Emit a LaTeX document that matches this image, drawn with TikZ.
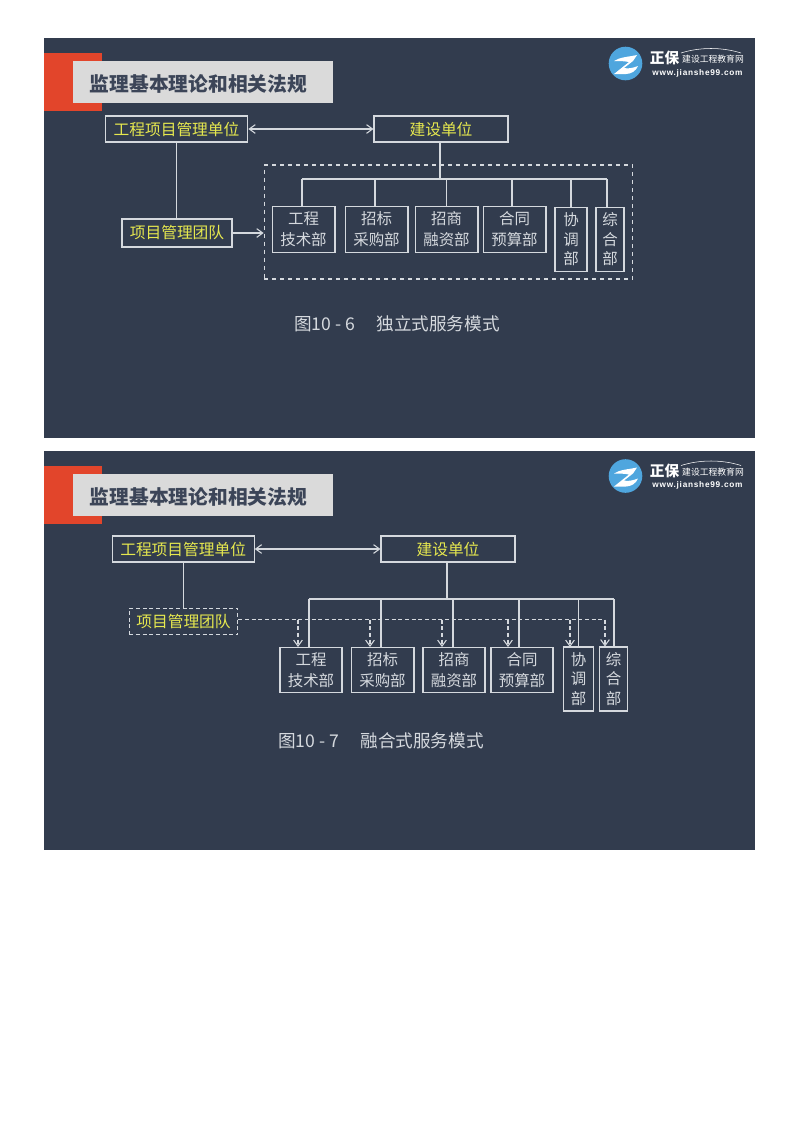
\documentclass[tikz,border=0pt]{standalone}
\usepackage{fontspec}
\usepackage{tikz}
\usetikzlibrary{arrows.meta}
\setmainfont{Noto Sans CJK SC}
\newfontfamily\sitefont[LetterSpace=9]{Liberation Sans}
\newfontfamily\brandfont{Noto Sans CJK SC}
\definecolor{slate}{HTML}{323C4E}
\definecolor{linegray}{HTML}{D5D9DE}
\definecolor{labelyellow}{HTML}{E6E84E}
\definecolor{titlegray}{HTML}{DADADA}
\definecolor{titleink}{HTML}{3C4558}
\definecolor{tabred}{HTML}{E2452B}
\definecolor{logoblue}{HTML}{4FA6DE}
\tikzset{
  x=0.75pt,y=-0.75pt,>={Straight Barb[length=4.5pt,width=6.5pt]},
  wire/.style={draw=linegray,line width=0.8pt},
  dashwire/.style={draw=linegray,line width=0.8pt,dash pattern=on 3pt off 2pt},
  unitbox/.style={draw=linegray,line width=0.8pt,text=labelyellow,font=\fontsize{11.8}{14}\selectfont,inner sep=0pt,minimum height=19.5pt},
  deptbox/.style={draw=linegray,line width=0.8pt,text=linegray,font=\fontsize{11.6}{14.6}\selectfont,inner sep=0pt,align=center,minimum height=34pt},
  tallbox/.style={deptbox,minimum height=48pt},
  captionlabel/.style={text=linegray,font=\fontsize{13.2}{16}\selectfont,inner sep=0pt},
}
\newcommand{\panel}[2]{%
  \fill [slate] (44,#1) rectangle (755,#1+399.5);
  \fill [tabred] (44,#1+15) rectangle (102,#1+73);
  \fill [titlegray] (73,#1+23) rectangle (333,#1+65);
  \node [text=titleink,font=\fontsize{14.8}{18}\bfseries,inner sep=0pt] (title#2) at (198.5,#1+46) {监理基本理论和相关法规};
  \fill [logoblue] (625.5,#1+25.5) circle (16.8);
  \fill [white] (614,#1+23) .. controls (620,#1+19) and (628,#1+19) .. (637,#1+17) -- (633,#1+23) -- (624,#1+30) .. controls (628,#1+31) and (633,#1+30) .. (638,#1+28) .. controls (636,#1+33) and (631,#1+36) .. (626,#1+36) .. controls (622,#1+36) and (618,#1+36) .. (614,#1+36) -- (629,#1+24) .. controls (624,#1+23) and (619,#1+23) .. (614,#1+23) -- cycle;
  \node [text=white,font=\fontsize{11}{12}\bfseries,inner sep=0pt] (brand#2) at (664.5,#1+20) {正保};
  \node [text=white,font=\fontsize{6.6}{8}\selectfont,inner sep=0pt] (school#2) at (713,#1+21.5) {建设工程教育网};
  \node [text=white,font=\sitefont\fontsize{6.2}{7}\bfseries,inner sep=0pt] (site#2) at (697.5,#1+35) {www.jianshe99.com};
  \draw [white,line width=0.4pt] (681,#1+15) .. controls (700,#1+9) and (722,#1+9) .. (741,#1+15);
}
\begin{document}
\begin{tikzpicture}
  \useasboundingbox (0,0) rectangle (800,1132);
  \fill [white] (0,0) rectangle (800,1132);
  \panel{38}{A}
  \panel{450.5}{B}
  \node [unitbox,minimum width=107pt] (managerA) at (176.5,129) {工程项目管理单位};
  \node [unitbox,minimum width=100.5pt] (ownerA) at (441,129) {建设单位};
  \node [unitbox,minimum width=82.5pt,minimum height=21pt] (teamA) at (177,233) {项目管理团队};
  \node [draw=linegray,line width=0.8pt,dashed,minimum width=276.5pt,minimum height=85.5pt,inner sep=0pt] (groupA) at (448.5,222) {};
  \node [deptbox,minimum width=47.2pt] (techA) at (303.5,229.5) {工程\\[1pt]技术部};
  \node [deptbox,minimum width=47.2pt] (buyA) at (376.5,229.5) {招标\\[1pt]采购部};
  \node [deptbox,minimum width=47.2pt] (financeA) at (446.5,229.5) {招商\\[1pt]融资部};
  \node [deptbox,minimum width=47.2pt] (budgetA) at (514.5,229.5) {合同\\[1pt]预算部};
  \node [tallbox,minimum width=24pt] (coordA) at (571,239.5) {协\\调\\部};
  \node [tallbox,minimum width=21pt] (generalA) at (610,239.5) {综\\合\\部};
  \node [captionlabel] (captionA) at (397,324) {图10 - 6\hspace{1.2em}独立式服务模式};
  \coordinate (trunkA) at (440,179);
  \coordinate (busleftA) at (302,179);
  \coordinate (busrightA) at (607,179);
  \draw [<->,wire] (managerA) -- (ownerA);
  \draw [wire] (managerA.south) -- (managerA.south |- teamA.north);
  \draw [->,wire] (teamA) -- (teamA -| groupA.west);
  \draw [wire] (ownerA.south -| trunkA) -- (trunkA);
  \draw [wire] (busleftA) -- (busrightA);
  \draw [wire] (busleftA) -- (busleftA |- techA.north);
  \draw [wire] (375,179) -- (375,207);
  \draw [wire] (financeA.north) -- (financeA.north |- trunkA);
  \draw [wire] (512,179) -- (512,207);
  \draw [wire] (coordA.north) -- (coordA.north |- trunkA);
  \draw [wire] (busrightA) -- (busrightA |- generalA.north);
  \node [unitbox,minimum width=106.5pt] (managerB) at (183.2,549) {工程项目管理单位};
  \node [unitbox,minimum width=100.5pt] (ownerB) at (448,549) {建设单位};
  \node [unitbox,dashwire,minimum width=81.5pt,minimum height=20pt] (teamB) at (183.5,621.5) {项目管理团队};
  \node [deptbox,minimum width=46.5pt] (techB) at (311,670) {工程\\[1pt]技术部};
  \node [deptbox,minimum width=47.2pt] (buyB) at (382.5,670) {招标\\[1pt]采购部};
  \node [deptbox,minimum width=46.5pt] (financeB) at (454,670) {招商\\[1pt]融资部};
  \node [deptbox,minimum width=46.5pt] (budgetB) at (522,670) {合同\\[1pt]预算部};
  \node [tallbox,minimum width=23pt] (coordB) at (578.5,679) {协\\调\\部};
  \node [tallbox,minimum width=21.5pt] (generalB) at (613.5,679) {综\\合\\部};
  \node [captionlabel] (captionB) at (381,741) {图10 - 7\hspace{1.2em}融合式服务模式};
  \coordinate (trunkB) at (447,599);
  \coordinate (busleftB) at (309,599);
  \coordinate (busrightB) at (614,599);
  \coordinate (dashendB) at (605,619.5);
  \draw [<->,wire] (managerB) -- (ownerB);
  \draw [wire] (managerB.south) -- (managerB.south |- teamB.north);
  \draw [wire] (trunkB |- ownerB.south) -- (trunkB);
  \draw [wire] (busleftB) -- (busrightB);
  \draw [wire] (busleftB) -- (busleftB |- techB.north);
  \draw [wire] (381,599) -- (381,647);
  \draw [wire] (453,599) -- (453,647);
  \draw [wire] (519,599) -- (519,647);
  \draw [wire] (578.5,599) -- (578.5,647);
  \draw [wire] (busrightB) -- (busrightB |- generalB.north);
  \draw [dashwire] (teamB.east |- dashendB) -- (dashendB);
  \draw [->,dashwire] (298,619.5) -- (298,647);
  \draw [->,dashwire] (370,619.5) -- (370,647);
  \draw [->,dashwire] (442,619.5) -- (442,647);
  \draw [->,dashwire] (508,619.5) -- (508,647);
  \draw [->,dashwire] (570,619.5) -- (570,647);
  \draw [->,dashwire] (dashendB) -- (dashendB |- generalB.north);
\end{tikzpicture}
\end{document}
